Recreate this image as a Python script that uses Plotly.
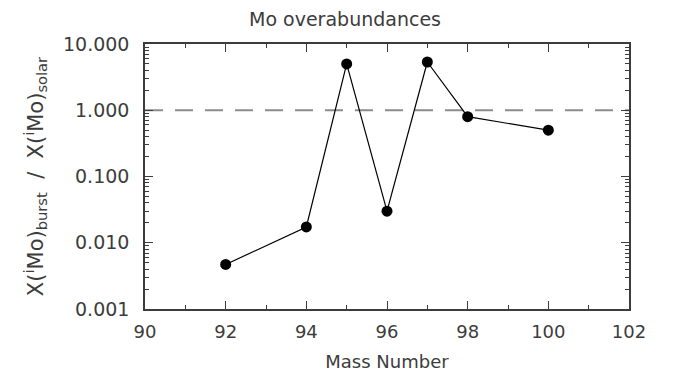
import plotly.graph_objects as go

# Mo isotope overabundances: burst yield relative to solar
mass_number = [92, 94, 95, 96, 97, 98, 100]
overabundance = [0.0047, 0.0173, 5.0, 0.030, 5.35, 0.80, 0.50]

reference_level = 1.0
x_range = [90, 102]
x_ticks = [90, 92, 94, 96, 98, 100, 102]
y_ticks = [0.001, 0.01, 0.1, 1.0, 10.0]
y_tick_text = ["0.001", "0.010", "0.100", "1.000", "10.000"]

font_family = "DejaVu Sans"
ink = "#3c3c3c"

fig = go.Figure()

# solar reference level
fig.add_trace(go.Scatter(
    x=x_range, y=[reference_level, reference_level],
    mode="lines",
    line=dict(color="#8c8c8c", width=2, dash="18px,12px"),
    hoverinfo="skip", showlegend=False,
))

fig.add_trace(go.Scatter(
    x=mass_number, y=overabundance,
    mode="lines+markers",
    line=dict(color="black", width=1.2),
    marker=dict(color="black", size=11),
    showlegend=False,
))

fig.update_layout(
    width=690, height=380,
    margin=dict(l=145, r=61, t=44, b=71),
    paper_bgcolor="white", plot_bgcolor="white",
    font=dict(family=font_family, color=ink, size=18),
    title=dict(text="Mo overabundances", x=0.5, xanchor="center",
               y=0.95, yanchor="middle",
               font=dict(size=19, family=font_family, color=ink)),
)

fig.update_xaxes(
    range=x_range, tickvals=x_ticks,
    ticks="inside", ticklen=8, tickwidth=1, tickcolor=ink,
    minor=dict(dtick=1, ticks="inside", ticklen=4, tickcolor=ink),
    showline=True, linecolor=ink, linewidth=1.5, mirror="allticks",
    showgrid=False, zeroline=False,
    ticklabelstandoff=6,
    title=dict(text="Mass Number", font=dict(size=18), standoff=14),
    tickfont=dict(size=18),
)

fig.update_yaxes(
    type="log", range=[-3, 1],
    tickvals=y_ticks, ticktext=y_tick_text,
    ticks="inside", ticklen=8, tickwidth=1, tickcolor=ink,
    minor=dict(ticks="inside", ticklen=4, tickcolor=ink, dtick="D1"),
    showline=True, linecolor=ink, linewidth=1.5, mirror="allticks",
    showgrid=False, zeroline=False,
    ticklabelstandoff=10,
    title=dict(text="X(<sup>i</sup>Mo)<sub>burst</sub>  /  X(<sup>i</sup>Mo)<sub>solar</sub>",
               font=dict(size=21), standoff=14),
    tickfont=dict(size=19),
)

fig.write_html("out.html")
